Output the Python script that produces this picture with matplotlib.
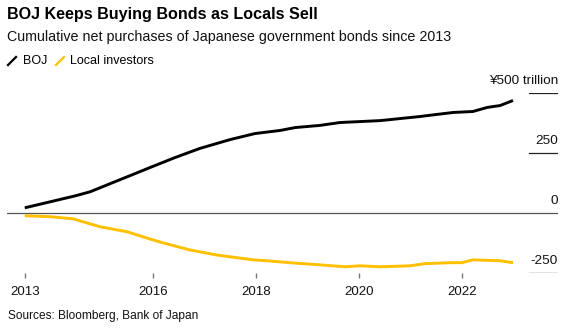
import numpy as np
import matplotlib
matplotlib.use('Agg')
import matplotlib.pyplot as plt

plt.rcParams['font.family'] = ['Liberation Sans', 'DejaVu Sans']

# cumulative net JGB purchases, trillion yen
boj_years = [2013.51, 2014.0, 2014.49, 2014.78, 2015.17, 2015.55, 2015.94, 2016.43,
             2016.91, 2017.50, 2017.98, 2018.47, 2018.76, 2019.24, 2019.63, 2020.02,
             2020.41, 2021.18, 2021.48, 2021.83, 2022.21, 2022.49, 2022.74, 2022.99]
boj_values = [22, 47, 72, 89, 123, 156, 190, 232,
              270, 307, 332, 345, 357, 366, 378, 382,
              386, 403, 411, 420, 424, 441, 449, 470]

local_years = [2013.51, 2014.0, 2014.45, 2014.97, 2015.50, 2015.94, 2016.19, 2016.72,
               2017.24, 2017.94, 2018.27, 2018.72, 2019.24, 2019.73, 2020.02, 2020.41,
               2020.99, 2021.28, 2021.77, 2022.0, 2022.21, 2022.74, 2022.99]
local_values = [-11, -15, -24, -57, -78, -108, -124, -154,
                -175, -195, -200, -208, -216, -224, -220, -224,
                -220, -211, -207, -207, -195, -199, -207]

x_ticks = [2013.51, 2016, 2018, 2020, 2022]
x_labels = ['2013', '2016', '2018', '2020', '2022']
y_ticks = [500, 250, 0, -250]
y_labels = ['¥500 trillion', '250', '0', '-250']

BLACK = '#000000'
YELLOW = '#FFC000'

fig = plt.figure(figsize=(5.76, 3.32), dpi=100)
ax = fig.add_axes([7/576, 1-273/332, 551/576, (273-93.3)/332])
ax.set_xlim(2013.165, 2023.864)
ax.set_ylim(-250, 500)
for s in ax.spines.values():
    s.set_visible(False)

ax.axhline(0, color='#555555', lw=0.9, zorder=1)
for v, lab in zip(y_ticks, y_labels):
    if v != 0:
        ax.axhline(v, xmin=0.947, xmax=1.0, color='#222222', lw=0.9)
    ax.annotate(lab, xy=(1.0, v), xycoords=('axes fraction', 'data'),
                xytext=(0, 8.6), textcoords='offset points',
                ha='right', va='center', fontsize=9.7, color='#111111')

ax.plot(boj_years, boj_values, color=BLACK, lw=2.1, solid_capstyle='butt', zorder=3, clip_on=False)
ax.plot(local_years, local_values, color=YELLOW, lw=2.1, solid_capstyle='butt', zorder=3, clip_on=False)

ax.set_yticks([])
ax.set_xticks(x_ticks)
ax.set_xticklabels(x_labels, fontsize=9.5, color='#111111')
ax.tick_params(axis='x', length=3.6, width=1, color='#777777', pad=6)

fig.text(7/576, 1-15/332, 'BOJ Keeps Buying Bonds as Locals Sell', fontsize=11.6,
         fontweight='bold', va='center', ha='left')
fig.text(7/576, 1-37/332, 'Cumulative net purchases of Japanese government bonds since 2013',
         fontsize=10.3, va='center', ha='left', color='#111111')

# legend with slash markers
ly = 1 - 61/332
fig.add_artist(plt.Line2D([8/576, 16/576], [ly - 4/332, ly + 4/332], color=BLACK, lw=1.6))
fig.text(23/576, ly, 'BOJ', fontsize=9, va='center', ha='left')
fig.add_artist(plt.Line2D([56/576, 64/576], [ly - 4/332, ly + 4/332], color=YELLOW, lw=1.6))
fig.text(70/576, ly, 'Local investors', fontsize=9, va='center', ha='left')

fig.text(8/576, 1-316/332, 'Sources: Bloomberg, Bank of Japan', fontsize=8.6,
         va='center', ha='left', color='#111111')

fig.savefig('out.png', dpi=100)
